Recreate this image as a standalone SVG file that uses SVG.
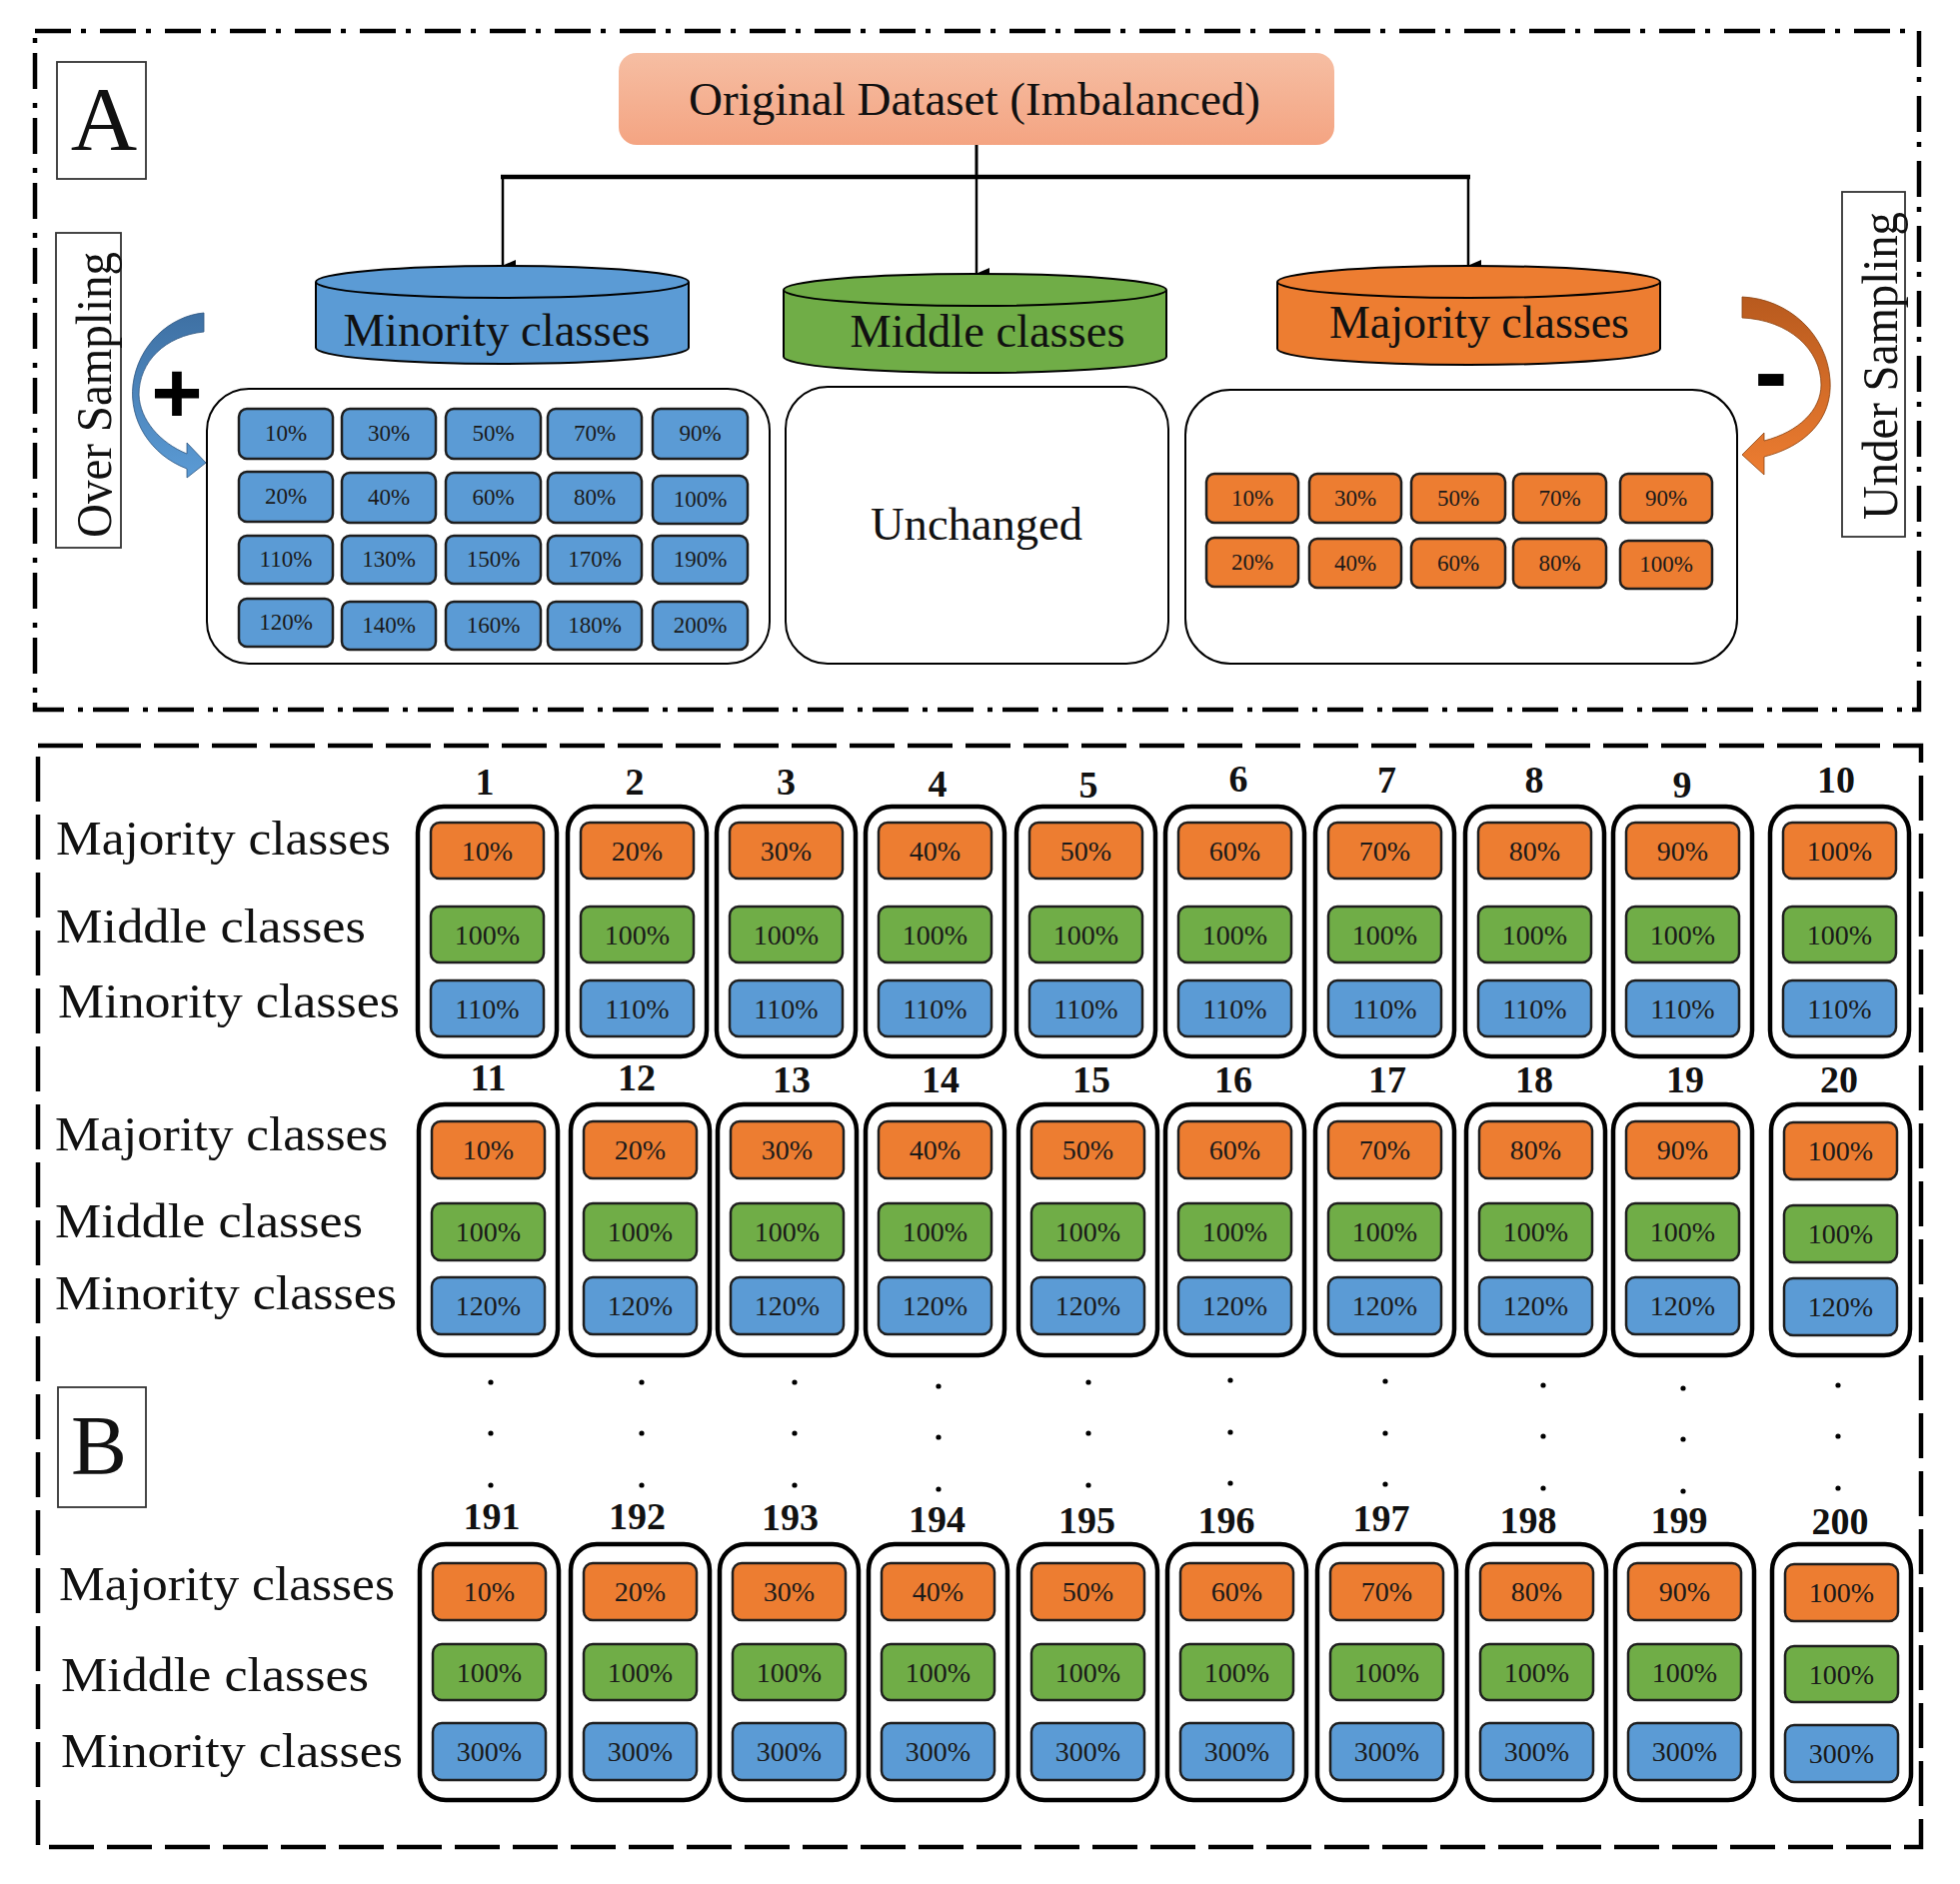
<svg xmlns="http://www.w3.org/2000/svg" width="1961" height="1885" viewBox="0 0 1961 1885">
<defs>
<style>
.serif{font-family:"Liberation Serif","DejaVu Serif",serif;fill:#111}
.lbl{font-family:"Liberation Serif","DejaVu Serif",serif;font-size:49px;fill:#111}
.num{font-family:"Liberation Serif","DejaVu Serif",serif;font-weight:bold;font-size:38px;text-anchor:middle;fill:#111}
.pct{font-family:"Liberation Serif","DejaVu Serif",serif;font-size:28px;text-anchor:middle;fill:#1a1a1a}
.sp{font-family:"Liberation Serif","DejaVu Serif",serif;font-size:23px;text-anchor:middle;fill:#1a1a1a}
.o{fill:#ED7D31;stroke:#1e1e1e;stroke-width:2.5}
.g{fill:#70AD47;stroke:#1e1e1e;stroke-width:2.5}
.b{fill:#5B9BD5;stroke:#1e1e1e;stroke-width:2.5}
.col{fill:#fff;stroke:#000;stroke-width:4.5}
.cont{fill:#fff;stroke:#000;stroke-width:2}
.cyl{stroke:#000;stroke-width:2}
.lb{fill:#fff;stroke:#333;stroke-width:1.8}
.conn{fill:none;stroke:#000}
.dot{fill:#000}
</style>
<linearGradient id="gOrig" x1="0" y1="0" x2="0" y2="1"><stop offset="0" stop-color="#F6BEA3"/><stop offset="1" stop-color="#F4A482"/></linearGradient>
<linearGradient id="gBlue" x1="0" y1="0" x2="0" y2="1"><stop offset="0" stop-color="#3E70A3"/><stop offset="1" stop-color="#5B9BD5"/></linearGradient>
<linearGradient id="gOrg" x1="0" y1="0" x2="0" y2="1"><stop offset="0" stop-color="#B85A1E"/><stop offset="1" stop-color="#ED7D31"/></linearGradient>
<marker id="arr" markerUnits="userSpaceOnUse" markerWidth="12" markerHeight="14" refX="6" refY="13" orient="auto-start-reverse" viewBox="0 0 12 14">
<path d="M0,0 L12,0 L6,14 Z" fill="#000"/>
</marker>
</defs>
<rect width="1961" height="1885" fill="#fff"/>

<!-- Section borders -->
<g id="sectionA-border">
<rect x="35" y="31" width="1885" height="679" fill="none" stroke="#000" stroke-width="4.5" stroke-dasharray="36 10 5 14"/>
</g>
<g id="sectionB-border">
<rect x="38" y="746" width="1884" height="1102" fill="none" stroke="#000" stroke-width="4.5" stroke-dasharray="45 13"/>
</g>

<!-- Labels A and B -->
<g id="labelA">
<rect class="lb" x="57" y="62" width="89" height="117"/>
<text class="serif" x="104" y="150" font-size="92" text-anchor="middle">A</text>
</g>
<g id="labelB">
<rect class="lb" x="58" y="1388" width="88" height="120"/>
<text class="serif" x="99" y="1475" font-size="84" text-anchor="middle">B</text>
</g>

<!-- Connectors -->
<g id="connectors">
<line class="conn" x1="977" y1="145" x2="977" y2="177" stroke-width="3"/>
<line class="conn" x1="501" y1="177" x2="1471" y2="177" stroke-width="4.5"/>
<line class="conn" x1="503" y1="177" x2="503" y2="266" stroke-width="2.5" marker-end="url(#arr)"/>
<line class="conn" x1="977" y1="177" x2="977" y2="274" stroke-width="2.5" marker-end="url(#arr)"/>
<line class="conn" x1="1469" y1="177" x2="1469" y2="266" stroke-width="2.5" marker-end="url(#arr)"/>
</g>

<!-- Original dataset -->
<g id="original">
<rect x="619" y="53" width="716" height="92" rx="18" fill="url(#gOrig)"/>
<text class="serif" x="975" y="115" font-size="47" text-anchor="middle" textLength="572" lengthAdjust="spacingAndGlyphs">Original Dataset (Imbalanced)</text>
</g>

<!-- Cylinders -->
<g id="cyl-minority">
<path class="cyl" fill="#5B9BD5" d="M316,282 L316,348 A186.5,16 0 0 0 689,348 L689,282"/>
<ellipse class="cyl" fill="#5B9BD5" cx="502.5" cy="282" rx="186.5" ry="16"/>
<text class="serif" x="497" y="346" font-size="46" text-anchor="middle" textLength="307" lengthAdjust="spacingAndGlyphs">Minority classes</text>
</g>
<g id="cyl-middle">
<path class="cyl" fill="#70AD47" d="M784,290 L784,357 A191.5,16 0 0 0 1167,357 L1167,290"/>
<ellipse class="cyl" fill="#70AD47" cx="975.5" cy="290" rx="191.5" ry="16"/>
<text class="serif" x="988" y="347" font-size="46" text-anchor="middle" textLength="275" lengthAdjust="spacingAndGlyphs">Middle classes</text>
</g>
<g id="cyl-majority">
<path class="cyl" fill="#ED7D31" d="M1278,282 L1278,349 A191.5,16 0 0 0 1661,349 L1661,282"/>
<ellipse class="cyl" fill="#ED7D31" cx="1469.5" cy="282" rx="191.5" ry="16"/>
<text class="serif" x="1480" y="338" font-size="46" text-anchor="middle" textLength="300" lengthAdjust="spacingAndGlyphs">Majority classes</text>
</g>

<!-- Side labels and arrows -->
<g id="over-sampling">
<rect class="lb" x="56" y="233" width="65" height="315"/>
<text class="serif" transform="translate(111,395) rotate(-90)" font-size="50" text-anchor="middle" textLength="286" lengthAdjust="spacingAndGlyphs">Over Sampling</text>
</g>
<g id="under-sampling">
<rect class="lb" x="1843" y="192" width="63" height="345"/>
<text class="serif" transform="translate(1898,366) rotate(-90)" font-size="50" text-anchor="middle" textLength="308" lengthAdjust="spacingAndGlyphs">Under Sampling</text>
</g>
<g id="arrow-over">
<path fill="url(#gBlue)" stroke="#2d5580" stroke-width="0.8" d="M204,313 C170,316 138,345 133,385 C129,420 150,455 187,469 L187,478 L206,463 L187,443 L187,454 C160,443 140,420 139,395 C139,362 165,336 204,332 Z"/>
<text x="177" y="423" font-family="Liberation Sans,Arial,sans-serif" font-weight="bold" font-size="88" text-anchor="middle" fill="#000">+</text>
</g>
<g id="arrow-under">
<path fill="url(#gOrg)" stroke="#8a4210" stroke-width="0.8" d="M1743,297 C1790,299 1828,335 1831,380 C1834,420 1805,447 1765,457 L1765,475 L1743,455 L1765,433 L1765,441 C1800,432 1822,410 1822,385 C1822,350 1790,320 1743,318 Z"/>
<text x="1772" y="406" font-family="Liberation Sans,Arial,sans-serif" font-weight="bold" font-size="100" text-anchor="middle" fill="#000">-</text>
</g>

<!-- Minority container -->
<g id="minority-box">
<rect class="cont" x="207" y="389" width="563" height="275" rx="42"/>
<rect class="b" x="239" y="409" width="94" height="50" rx="8"/><text class="sp" x="286" y="441">10%</text>
<rect class="b" x="342" y="409" width="94" height="50" rx="8"/><text class="sp" x="389" y="441">30%</text>
<rect class="b" x="446" y="409" width="95" height="50" rx="8"/><text class="sp" x="493.5" y="441">50%</text>
<rect class="b" x="548" y="409" width="94" height="50" rx="8"/><text class="sp" x="595" y="441">70%</text>
<rect class="b" x="653" y="409" width="95" height="50" rx="8"/><text class="sp" x="700.5" y="441">90%</text>
<rect class="b" x="239" y="472" width="94" height="50" rx="8"/><text class="sp" x="286" y="504">20%</text>
<rect class="b" x="342" y="473" width="94" height="50" rx="8"/><text class="sp" x="389" y="505">40%</text>
<rect class="b" x="446" y="473" width="95" height="50" rx="8"/><text class="sp" x="493.5" y="505">60%</text>
<rect class="b" x="548" y="473" width="94" height="50" rx="8"/><text class="sp" x="595" y="505">80%</text>
<rect class="b" x="653" y="476" width="95" height="48" rx="8"/><text class="sp" x="700.5" y="507">100%</text>
<rect class="b" x="239" y="536" width="94" height="48" rx="8"/><text class="sp" x="286" y="567">110%</text>
<rect class="b" x="342" y="536" width="94" height="48" rx="8"/><text class="sp" x="389" y="567">130%</text>
<rect class="b" x="446" y="536" width="95" height="48" rx="8"/><text class="sp" x="493.5" y="567">150%</text>
<rect class="b" x="548" y="536" width="94" height="48" rx="8"/><text class="sp" x="595" y="567">170%</text>
<rect class="b" x="653" y="536" width="95" height="48" rx="8"/><text class="sp" x="700.5" y="567">190%</text>
<rect class="b" x="239" y="599" width="94" height="48" rx="8"/><text class="sp" x="286" y="630">120%</text>
<rect class="b" x="342" y="602" width="94" height="48" rx="8"/><text class="sp" x="389" y="633">140%</text>
<rect class="b" x="446" y="602" width="95" height="48" rx="8"/><text class="sp" x="493.5" y="633">160%</text>
<rect class="b" x="548" y="602" width="94" height="48" rx="8"/><text class="sp" x="595" y="633">180%</text>
<rect class="b" x="653" y="602" width="95" height="48" rx="8"/><text class="sp" x="700.5" y="633">200%</text>
</g>

<g id="middle-box">
<rect class="cont" x="786" y="387" width="383" height="277" rx="42"/>
<text class="serif" x="977" y="540" font-size="46" text-anchor="middle" textLength="212" lengthAdjust="spacingAndGlyphs">Unchanged</text>
</g>

<g id="majority-box">
<rect class="cont" x="1186" y="390" width="552" height="274" rx="45"/>
<rect class="o" x="1207" y="474" width="92" height="49" rx="8"/><text class="sp" x="1253" y="506">10%</text>
<rect class="o" x="1310" y="474" width="92" height="49" rx="8"/><text class="sp" x="1356" y="506">30%</text>
<rect class="o" x="1412" y="474" width="94" height="49" rx="8"/><text class="sp" x="1459" y="506">50%</text>
<rect class="o" x="1514" y="474" width="93" height="49" rx="8"/><text class="sp" x="1560.5" y="506">70%</text>
<rect class="o" x="1621" y="474" width="92" height="49" rx="8"/><text class="sp" x="1667" y="506">90%</text>
<rect class="o" x="1207" y="538" width="92" height="49" rx="8"/><text class="sp" x="1253" y="570">20%</text>
<rect class="o" x="1310" y="539" width="92" height="49" rx="8"/><text class="sp" x="1356" y="571">40%</text>
<rect class="o" x="1412" y="539" width="94" height="49" rx="8"/><text class="sp" x="1459" y="571">60%</text>
<rect class="o" x="1514" y="539" width="93" height="49" rx="8"/><text class="sp" x="1560.5" y="571">80%</text>
<rect class="o" x="1621" y="541" width="92" height="48" rx="8"/><text class="sp" x="1667" y="572">100%</text>
</g>

<!-- Section B row labels -->
<g id="rowlabels">
<text class="lbl" x="56" y="855" textLength="335" lengthAdjust="spacingAndGlyphs">Majority classes</text>
<text class="lbl" x="56" y="943" textLength="310" lengthAdjust="spacingAndGlyphs">Middle classes</text>
<text class="lbl" x="58" y="1018" textLength="342" lengthAdjust="spacingAndGlyphs">Minority classes</text>
<text class="lbl" x="55" y="1151" textLength="333" lengthAdjust="spacingAndGlyphs">Majority classes</text>
<text class="lbl" x="55" y="1238" textLength="308" lengthAdjust="spacingAndGlyphs">Middle classes</text>
<text class="lbl" x="55" y="1310" textLength="342" lengthAdjust="spacingAndGlyphs">Minority classes</text>
<text class="lbl" x="59" y="1601" textLength="336" lengthAdjust="spacingAndGlyphs">Majority classes</text>
<text class="lbl" x="61" y="1692" textLength="308" lengthAdjust="spacingAndGlyphs">Middle classes</text>
<text class="lbl" x="61" y="1768" textLength="342" lengthAdjust="spacingAndGlyphs">Minority classes</text>
</g>

<!-- Row 1 -->
<g id="r1c1" transform="translate(418,807)"><rect class="col" width="139" height="250" rx="26"/><rect class="o" x="13" y="16" width="113" height="56" rx="9"/><rect class="g" x="13" y="100" width="113" height="56" rx="9"/><rect class="b" x="13" y="174" width="113" height="56" rx="9"/><text class="num" x="67" y="-12">1</text><text class="pct" x="69.5" y="54">10%</text><text class="pct" x="69.5" y="138">100%</text><text class="pct" x="69.5" y="212">110%</text></g>
<g id="r1c2" transform="translate(568,807)"><rect class="col" width="139" height="250" rx="26"/><rect class="o" x="13" y="16" width="113" height="56" rx="9"/><rect class="g" x="13" y="100" width="113" height="56" rx="9"/><rect class="b" x="13" y="174" width="113" height="56" rx="9"/><text class="num" x="67" y="-12">2</text><text class="pct" x="69.5" y="54">20%</text><text class="pct" x="69.5" y="138">100%</text><text class="pct" x="69.5" y="212">110%</text></g>
<g id="r1c3" transform="translate(717,807)"><rect class="col" width="139" height="250" rx="26"/><rect class="o" x="13" y="16" width="113" height="56" rx="9"/><rect class="g" x="13" y="100" width="113" height="56" rx="9"/><rect class="b" x="13" y="174" width="113" height="56" rx="9"/><text class="num" x="69.5" y="-12">3</text><text class="pct" x="69.5" y="54">30%</text><text class="pct" x="69.5" y="138">100%</text><text class="pct" x="69.5" y="212">110%</text></g>
<g id="r1c4" transform="translate(866,807)"><rect class="col" width="139" height="250" rx="26"/><rect class="o" x="13" y="16" width="113" height="56" rx="9"/><rect class="g" x="13" y="100" width="113" height="56" rx="9"/><rect class="b" x="13" y="174" width="113" height="56" rx="9"/><text class="num" x="72" y="-10">4</text><text class="pct" x="69.5" y="54">40%</text><text class="pct" x="69.5" y="138">100%</text><text class="pct" x="69.5" y="212">110%</text></g>
<g id="r1c5" transform="translate(1017,807)"><rect class="col" width="139" height="250" rx="26"/><rect class="o" x="13" y="16" width="113" height="56" rx="9"/><rect class="g" x="13" y="100" width="113" height="56" rx="9"/><rect class="b" x="13" y="174" width="113" height="56" rx="9"/><text class="num" x="72" y="-9">5</text><text class="pct" x="69.5" y="54">50%</text><text class="pct" x="69.5" y="138">100%</text><text class="pct" x="69.5" y="212">110%</text></g>
<g id="r1c6" transform="translate(1166,807)"><rect class="col" width="139" height="250" rx="26"/><rect class="o" x="13" y="16" width="113" height="56" rx="9"/><rect class="g" x="13" y="100" width="113" height="56" rx="9"/><rect class="b" x="13" y="174" width="113" height="56" rx="9"/><text class="num" x="73" y="-15">6</text><text class="pct" x="69.5" y="54">60%</text><text class="pct" x="69.5" y="138">100%</text><text class="pct" x="69.5" y="212">110%</text></g>
<g id="r1c7" transform="translate(1316,807)"><rect class="col" width="139" height="250" rx="26"/><rect class="o" x="13" y="16" width="113" height="56" rx="9"/><rect class="g" x="13" y="100" width="113" height="56" rx="9"/><rect class="b" x="13" y="174" width="113" height="56" rx="9"/><text class="num" x="71.5" y="-14">7</text><text class="pct" x="69.5" y="54">70%</text><text class="pct" x="69.5" y="138">100%</text><text class="pct" x="69.5" y="212">110%</text></g>
<g id="r1c8" transform="translate(1466,807)"><rect class="col" width="139" height="250" rx="26"/><rect class="o" x="13" y="16" width="113" height="56" rx="9"/><rect class="g" x="13" y="100" width="113" height="56" rx="9"/><rect class="b" x="13" y="174" width="113" height="56" rx="9"/><text class="num" x="69" y="-14">8</text><text class="pct" x="69.5" y="54">80%</text><text class="pct" x="69.5" y="138">100%</text><text class="pct" x="69.5" y="212">110%</text></g>
<g id="r1c9" transform="translate(1614,807)"><rect class="col" width="139" height="250" rx="26"/><rect class="o" x="13" y="16" width="113" height="56" rx="9"/><rect class="g" x="13" y="100" width="113" height="56" rx="9"/><rect class="b" x="13" y="174" width="113" height="56" rx="9"/><text class="num" x="69" y="-9">9</text><text class="pct" x="69.5" y="54">90%</text><text class="pct" x="69.5" y="138">100%</text><text class="pct" x="69.5" y="212">110%</text></g>
<g id="r1c10" transform="translate(1771,807)"><rect class="col" width="139" height="250" rx="26"/><rect class="o" x="13" y="16" width="113" height="56" rx="9"/><rect class="g" x="13" y="100" width="113" height="56" rx="9"/><rect class="b" x="13" y="174" width="113" height="56" rx="9"/><text class="num" x="66" y="-14">10</text><text class="pct" x="69.5" y="54">100%</text><text class="pct" x="69.5" y="138">100%</text><text class="pct" x="69.5" y="212">110%</text></g>

<!-- Row 2 -->
<g id="r2c1" transform="translate(419,1105)"><rect class="col" width="139" height="251" rx="26"/><rect class="o" x="13" y="17" width="113" height="57" rx="9"/><rect class="g" x="13" y="99" width="113" height="57" rx="9"/><rect class="b" x="13" y="173" width="113" height="57" rx="9"/><text class="num" x="69.5" y="-14">11</text><text class="pct" x="69.5" y="55">10%</text><text class="pct" x="69.5" y="137">100%</text><text class="pct" x="69.5" y="211">120%</text></g>
<g id="r2c2" transform="translate(571,1105)"><rect class="col" width="139" height="251" rx="26"/><rect class="o" x="13" y="17" width="113" height="57" rx="9"/><rect class="g" x="13" y="99" width="113" height="57" rx="9"/><rect class="b" x="13" y="173" width="113" height="57" rx="9"/><text class="num" x="66" y="-14">12</text><text class="pct" x="69.5" y="55">20%</text><text class="pct" x="69.5" y="137">100%</text><text class="pct" x="69.5" y="211">120%</text></g>
<g id="r2c3" transform="translate(718,1105)"><rect class="col" width="139" height="251" rx="26"/><rect class="o" x="13" y="17" width="113" height="57" rx="9"/><rect class="g" x="13" y="99" width="113" height="57" rx="9"/><rect class="b" x="13" y="173" width="113" height="57" rx="9"/><text class="num" x="74" y="-12">13</text><text class="pct" x="69.5" y="55">30%</text><text class="pct" x="69.5" y="137">100%</text><text class="pct" x="69.5" y="211">120%</text></g>
<g id="r2c4" transform="translate(866,1105)"><rect class="col" width="139" height="251" rx="26"/><rect class="o" x="13" y="17" width="113" height="57" rx="9"/><rect class="g" x="13" y="99" width="113" height="57" rx="9"/><rect class="b" x="13" y="173" width="113" height="57" rx="9"/><text class="num" x="75" y="-12">14</text><text class="pct" x="69.5" y="55">40%</text><text class="pct" x="69.5" y="137">100%</text><text class="pct" x="69.5" y="211">120%</text></g>
<g id="r2c5" transform="translate(1019,1105)"><rect class="col" width="139" height="251" rx="26"/><rect class="o" x="13" y="17" width="113" height="57" rx="9"/><rect class="g" x="13" y="99" width="113" height="57" rx="9"/><rect class="b" x="13" y="173" width="113" height="57" rx="9"/><text class="num" x="73" y="-12">15</text><text class="pct" x="69.5" y="55">50%</text><text class="pct" x="69.5" y="137">100%</text><text class="pct" x="69.5" y="211">120%</text></g>
<g id="r2c6" transform="translate(1166,1105)"><rect class="col" width="139" height="251" rx="26"/><rect class="o" x="13" y="17" width="113" height="57" rx="9"/><rect class="g" x="13" y="99" width="113" height="57" rx="9"/><rect class="b" x="13" y="173" width="113" height="57" rx="9"/><text class="num" x="68" y="-12">16</text><text class="pct" x="69.5" y="55">60%</text><text class="pct" x="69.5" y="137">100%</text><text class="pct" x="69.5" y="211">120%</text></g>
<g id="r2c7" transform="translate(1316,1105)"><rect class="col" width="139" height="251" rx="26"/><rect class="o" x="13" y="17" width="113" height="57" rx="9"/><rect class="g" x="13" y="99" width="113" height="57" rx="9"/><rect class="b" x="13" y="173" width="113" height="57" rx="9"/><text class="num" x="72" y="-12">17</text><text class="pct" x="69.5" y="55">70%</text><text class="pct" x="69.5" y="137">100%</text><text class="pct" x="69.5" y="211">120%</text></g>
<g id="r2c8" transform="translate(1467,1105)"><rect class="col" width="139" height="251" rx="26"/><rect class="o" x="13" y="17" width="113" height="57" rx="9"/><rect class="g" x="13" y="99" width="113" height="57" rx="9"/><rect class="b" x="13" y="173" width="113" height="57" rx="9"/><text class="num" x="68" y="-12">18</text><text class="pct" x="69.5" y="55">80%</text><text class="pct" x="69.5" y="137">100%</text><text class="pct" x="69.5" y="211">120%</text></g>
<g id="r2c9" transform="translate(1614,1105)"><rect class="col" width="139" height="251" rx="26"/><rect class="o" x="13" y="17" width="113" height="57" rx="9"/><rect class="g" x="13" y="99" width="113" height="57" rx="9"/><rect class="b" x="13" y="173" width="113" height="57" rx="9"/><text class="num" x="72" y="-12">19</text><text class="pct" x="69.5" y="55">90%</text><text class="pct" x="69.5" y="137">100%</text><text class="pct" x="69.5" y="211">120%</text></g>
<g id="r2c10" transform="translate(1772,1105)"><rect class="col" width="139" height="251" rx="26"/><rect class="o" x="13" y="18" width="113" height="57" rx="9"/><rect class="g" x="13" y="101" width="113" height="57" rx="9"/><rect class="b" x="13" y="174" width="113" height="57" rx="9"/><text class="num" x="68" y="-12">20</text><text class="pct" x="69.5" y="56">100%</text><text class="pct" x="69.5" y="139">100%</text><text class="pct" x="69.5" y="212">120%</text></g>

<!-- Dots -->
<g id="dots">
<circle class="dot" cx="491" cy="1383" r="2.6"/><circle class="dot" cx="491" cy="1434" r="2.6"/><circle class="dot" cx="491" cy="1486" r="2.6"/>
<circle class="dot" cx="642" cy="1383" r="2.6"/><circle class="dot" cx="642" cy="1434" r="2.6"/><circle class="dot" cx="642" cy="1486" r="2.6"/>
<circle class="dot" cx="795" cy="1383" r="2.6"/><circle class="dot" cx="795" cy="1434" r="2.6"/><circle class="dot" cx="795" cy="1486" r="2.6"/>
<circle class="dot" cx="939" cy="1387" r="2.6"/><circle class="dot" cx="939" cy="1438" r="2.6"/><circle class="dot" cx="939" cy="1490" r="2.6"/>
<circle class="dot" cx="1089" cy="1383" r="2.6"/><circle class="dot" cx="1089" cy="1434" r="2.6"/><circle class="dot" cx="1089" cy="1486" r="2.6"/>
<circle class="dot" cx="1231" cy="1381" r="2.6"/><circle class="dot" cx="1231" cy="1433" r="2.6"/><circle class="dot" cx="1231" cy="1484" r="2.6"/>
<circle class="dot" cx="1386" cy="1382" r="2.6"/><circle class="dot" cx="1386" cy="1434" r="2.6"/><circle class="dot" cx="1386" cy="1485" r="2.6"/>
<circle class="dot" cx="1544" cy="1386" r="2.6"/><circle class="dot" cx="1544" cy="1437" r="2.6"/><circle class="dot" cx="1544" cy="1489" r="2.6"/>
<circle class="dot" cx="1684" cy="1389" r="2.6"/><circle class="dot" cx="1684" cy="1440" r="2.6"/><circle class="dot" cx="1684" cy="1492" r="2.6"/>
<circle class="dot" cx="1839" cy="1386" r="2.6"/><circle class="dot" cx="1839" cy="1437" r="2.6"/><circle class="dot" cx="1839" cy="1489" r="2.6"/>
</g>

<!-- Row 3 -->
<g id="r3c1" transform="translate(420,1545)"><rect class="col" width="139" height="256" rx="26"/><rect class="o" x="13" y="19" width="113" height="57" rx="9"/><rect class="g" x="13" y="100" width="113" height="56" rx="9"/><rect class="b" x="13" y="179" width="113" height="57" rx="9"/><text class="num" x="72" y="-15">191</text><text class="pct" x="69.5" y="57">10%</text><text class="pct" x="69.5" y="137.5">100%</text><text class="pct" x="69.5" y="217">300%</text></g>
<g id="r3c2" transform="translate(571,1545)"><rect class="col" width="139" height="256" rx="26"/><rect class="o" x="13" y="19" width="113" height="57" rx="9"/><rect class="g" x="13" y="100" width="113" height="56" rx="9"/><rect class="b" x="13" y="179" width="113" height="57" rx="9"/><text class="num" x="66.5" y="-15">192</text><text class="pct" x="69.5" y="57">20%</text><text class="pct" x="69.5" y="137.5">100%</text><text class="pct" x="69.5" y="217">300%</text></g>
<g id="r3c3" transform="translate(720,1545)"><rect class="col" width="139" height="256" rx="26"/><rect class="o" x="13" y="19" width="113" height="57" rx="9"/><rect class="g" x="13" y="100" width="113" height="56" rx="9"/><rect class="b" x="13" y="179" width="113" height="57" rx="9"/><text class="num" x="70.5" y="-14">193</text><text class="pct" x="69.5" y="57">30%</text><text class="pct" x="69.5" y="137.5">100%</text><text class="pct" x="69.5" y="217">300%</text></g>
<g id="r3c4" transform="translate(869,1545)"><rect class="col" width="139" height="256" rx="26"/><rect class="o" x="13" y="19" width="113" height="57" rx="9"/><rect class="g" x="13" y="100" width="113" height="56" rx="9"/><rect class="b" x="13" y="179" width="113" height="57" rx="9"/><text class="num" x="68.5" y="-12">194</text><text class="pct" x="69.5" y="57">40%</text><text class="pct" x="69.5" y="137.5">100%</text><text class="pct" x="69.5" y="217">300%</text></g>
<g id="r3c5" transform="translate(1019,1545)"><rect class="col" width="139" height="256" rx="26"/><rect class="o" x="13" y="19" width="113" height="57" rx="9"/><rect class="g" x="13" y="100" width="113" height="56" rx="9"/><rect class="b" x="13" y="179" width="113" height="57" rx="9"/><text class="num" x="68.5" y="-11">195</text><text class="pct" x="69.5" y="57">50%</text><text class="pct" x="69.5" y="137.5">100%</text><text class="pct" x="69.5" y="217">300%</text></g>
<g id="r3c6" transform="translate(1168,1545)"><rect class="col" width="139" height="256" rx="26"/><rect class="o" x="13" y="19" width="113" height="57" rx="9"/><rect class="g" x="13" y="100" width="113" height="56" rx="9"/><rect class="b" x="13" y="179" width="113" height="57" rx="9"/><text class="num" x="59" y="-11">196</text><text class="pct" x="69.5" y="57">60%</text><text class="pct" x="69.5" y="137.5">100%</text><text class="pct" x="69.5" y="217">300%</text></g>
<g id="r3c7" transform="translate(1318,1545)"><rect class="col" width="139" height="256" rx="26"/><rect class="o" x="13" y="19" width="113" height="57" rx="9"/><rect class="g" x="13" y="100" width="113" height="56" rx="9"/><rect class="b" x="13" y="179" width="113" height="57" rx="9"/><text class="num" x="64" y="-13">197</text><text class="pct" x="69.5" y="57">70%</text><text class="pct" x="69.5" y="137.5">100%</text><text class="pct" x="69.5" y="217">300%</text></g>
<g id="r3c8" transform="translate(1468,1545)"><rect class="col" width="139" height="256" rx="26"/><rect class="o" x="13" y="19" width="113" height="57" rx="9"/><rect class="g" x="13" y="100" width="113" height="56" rx="9"/><rect class="b" x="13" y="179" width="113" height="57" rx="9"/><text class="num" x="61" y="-11">198</text><text class="pct" x="69.5" y="57">80%</text><text class="pct" x="69.5" y="137.5">100%</text><text class="pct" x="69.5" y="217">300%</text></g>
<g id="r3c9" transform="translate(1616,1545)"><rect class="col" width="139" height="256" rx="26"/><rect class="o" x="13" y="19" width="113" height="57" rx="9"/><rect class="g" x="13" y="100" width="113" height="56" rx="9"/><rect class="b" x="13" y="179" width="113" height="57" rx="9"/><text class="num" x="64" y="-11">199</text><text class="pct" x="69.5" y="57">90%</text><text class="pct" x="69.5" y="137.5">100%</text><text class="pct" x="69.5" y="217">300%</text></g>
<g id="r3c10" transform="translate(1773,1545)"><rect class="col" width="139" height="256" rx="26"/><rect class="o" x="13" y="20" width="113" height="57" rx="9"/><rect class="g" x="13" y="102" width="113" height="56" rx="9"/><rect class="b" x="13" y="181" width="113" height="57" rx="9"/><text class="num" x="68" y="-10">200</text><text class="pct" x="69.5" y="58">100%</text><text class="pct" x="69.5" y="139.5">100%</text><text class="pct" x="69.5" y="219">300%</text></g>
</svg>
